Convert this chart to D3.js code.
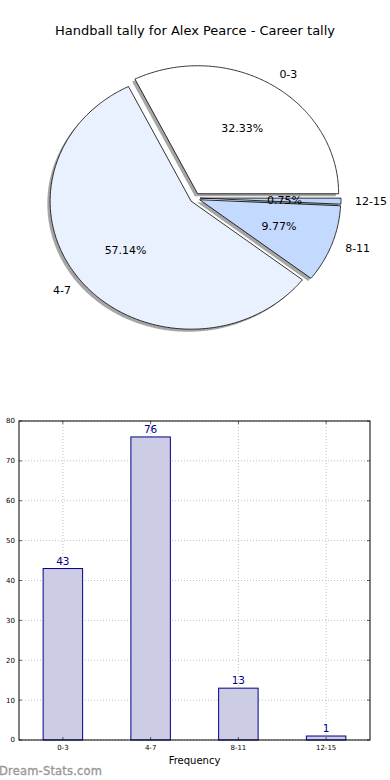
<!DOCTYPE html>
<html><head><meta charset="utf-8">
<script src="https://cdn.jsdelivr.net/npm/d3@7"></script>
<style>body{margin:0;background:#fff}svg{display:block}text{font-family:"DejaVu Sans",sans-serif}</style>
</head><body>
<script>
const categories = ["0-3", "4-7", "8-11", "12-15"];
const values = [43, 76, 13, 1];
const pieColors = ["#ffffff", "#eaf1fe", "#c4d9fe", "#bcd5fb"];
const yTicks = [0, 10, 20, 30, 40, 50, 60, 70, 80];
const title = "Handball tally for Alex Pearce - Career tally";

const W = 390, H = 780;
const svg = d3.select("body").append("svg").attr("width", W).attr("height", H);

svg.append("text").attr("x", 195).attr("y", 35).attr("text-anchor", "middle")
  .attr("font-size", 13).attr("fill", "#000").text(title);

// ---- Pie (matplotlib style: start at 0deg, counterclockwise, elliptical) ----
const cx = 195, cy = 198, rx = 141, ry = 128, explode = 5;
const total = d3.sum(values);
const angScale = d3.scaleLinear().domain([0, total]).range([0, 2 * Math.PI]);
let cum = 0;
const slices = values.map((v, i) => {
  const a0 = angScale(cum); cum += v; const a1 = angScale(cum);
  return {i, v, a0, a1, mid: (a0 + a1) / 2};
});
function wedgePath(s, ox, oy) {
  const c = [cx + ox + explode * Math.cos(s.mid), cy + oy - explode * Math.sin(s.mid)];
  const n = Math.max(4, Math.ceil((s.a1 - s.a0) / 0.01));
  const pts = [c];
  for (let k = 0; k <= n; k++) {
    const a = s.a0 + (s.a1 - s.a0) * k / n;
    pts.push([c[0] + rx * Math.cos(a), c[1] - ry * Math.sin(a)]);
  }
  return d3.line()(pts) + "Z";
}
const gPie = svg.append("g");
// shadows
slices.forEach(s => {
  gPie.append("path").attr("d", wedgePath(s, -2.8, 2.6))
    .attr("fill", "#4d4d4d").attr("fill-opacity", 0.5).attr("stroke", "none");
});
slices.forEach(s => {
  gPie.append("path").attr("d", wedgePath(s, 0, 0))
    .attr("fill", pieColors[s.i]).attr("stroke", "#000").attr("stroke-width", 0.8)
    .attr("stroke-linejoin", "miter");
});
slices.forEach(s => {
  const ccx = cx + explode * Math.cos(s.mid), ccy = cy - explode * Math.sin(s.mid);
  const lx = ccx + 1.1 * rx * Math.cos(s.mid), ly = ccy - 1.1 * ry * Math.sin(s.mid);
  gPie.append("text").attr("x", lx).attr("y", ly).attr("dy", "0.35em")
    .attr("text-anchor", Math.cos(s.mid) >= 0 ? "start" : "end")
    .attr("font-size", 11).text(categories[s.i]);
  const px = ccx + 0.6 * rx * Math.cos(s.mid), py = ccy - 0.6 * ry * Math.sin(s.mid);
  gPie.append("text").attr("x", px).attr("y", py).attr("dy", "0.35em")
    .attr("text-anchor", "middle").attr("font-size", 11)
    .text((s.v / total * 100).toFixed(2) + "%");
});

// ---- Bar chart ----
const L = 19, R = 370, T = 421, B = 740;
const x = d3.scaleLinear().domain([-0.5, 3.5]).range([L, R]);
const y = d3.scaleLinear().domain([0, 80]).range([B, T]);
const gBar = svg.append("g");
// grid
yTicks.forEach(t => {
  gBar.append("line").attr("x1", L).attr("x2", R).attr("y1", y(t)).attr("y2", y(t))
    .attr("stroke", "#c0c0c0").attr("stroke-width", 1).attr("stroke-dasharray", "1,2");
});
categories.forEach((c, i) => {
  gBar.append("line").attr("x1", x(i)).attr("x2", x(i)).attr("y1", T).attr("y2", B)
    .attr("stroke", "#c0c0c0").attr("stroke-width", 1).attr("stroke-dasharray", "1,2");
});
const bw = x(0.45) - x(0);
categories.forEach((c, i) => {
  gBar.append("rect").attr("x", x(i) - bw / 2).attr("y", y(values[i]))
    .attr("width", bw).attr("height", y(0) - y(values[i]))
    .attr("fill", "#ccccE4").attr("stroke", "#00008b").attr("stroke-width", 1);
  gBar.append("text").attr("x", x(i)).attr("y", y(values[i]) - 4)
    .attr("text-anchor", "middle").attr("font-size", 10.5).attr("fill", "#00008b")
    .text(values[i]);
});
// frame
gBar.append("rect").attr("x", L).attr("y", T).attr("width", R - L).attr("height", B - T)
  .attr("fill", "none").attr("stroke", "#000").attr("stroke-width", 1);
// ticks (inward)
yTicks.forEach(t => {
  gBar.append("line").attr("x1", L).attr("x2", L + 3).attr("y1", y(t)).attr("y2", y(t)).attr("stroke", "#000").attr("stroke-width", 0.6);
  gBar.append("line").attr("x1", R - 3).attr("x2", R).attr("y1", y(t)).attr("y2", y(t)).attr("stroke", "#000").attr("stroke-width", 0.6);
  gBar.append("text").attr("x", L - 4).attr("y", y(t)).attr("dy", "0.35em")
    .attr("text-anchor", "end").attr("font-size", 7).text(t);
});
categories.forEach((c, i) => {
  gBar.append("line").attr("x1", x(i)).attr("x2", x(i)).attr("y1", B).attr("y2", B - 3).attr("stroke", "#000").attr("stroke-width", 0.6);
  gBar.append("line").attr("x1", x(i)).attr("x2", x(i)).attr("y1", T).attr("y2", T + 3).attr("stroke", "#000").attr("stroke-width", 0.6);
  gBar.append("text").attr("x", x(i)).attr("y", B + 10).attr("text-anchor", "middle")
    .attr("font-size", 7).text(c);
});
svg.append("text").attr("x", (L + R) / 2).attr("y", 764).attr("text-anchor", "middle")
  .attr("font-size", 10).text("Frequency");
svg.append("text").attr("x", -1).attr("y", 775).attr("font-size", 11.5)
  .attr("fill", "#999").attr("stroke", "#999").attr("stroke-width", 0.35)
  .attr("textLength", 103).text("Dream-Stats.com");
</script>
</body></html>
